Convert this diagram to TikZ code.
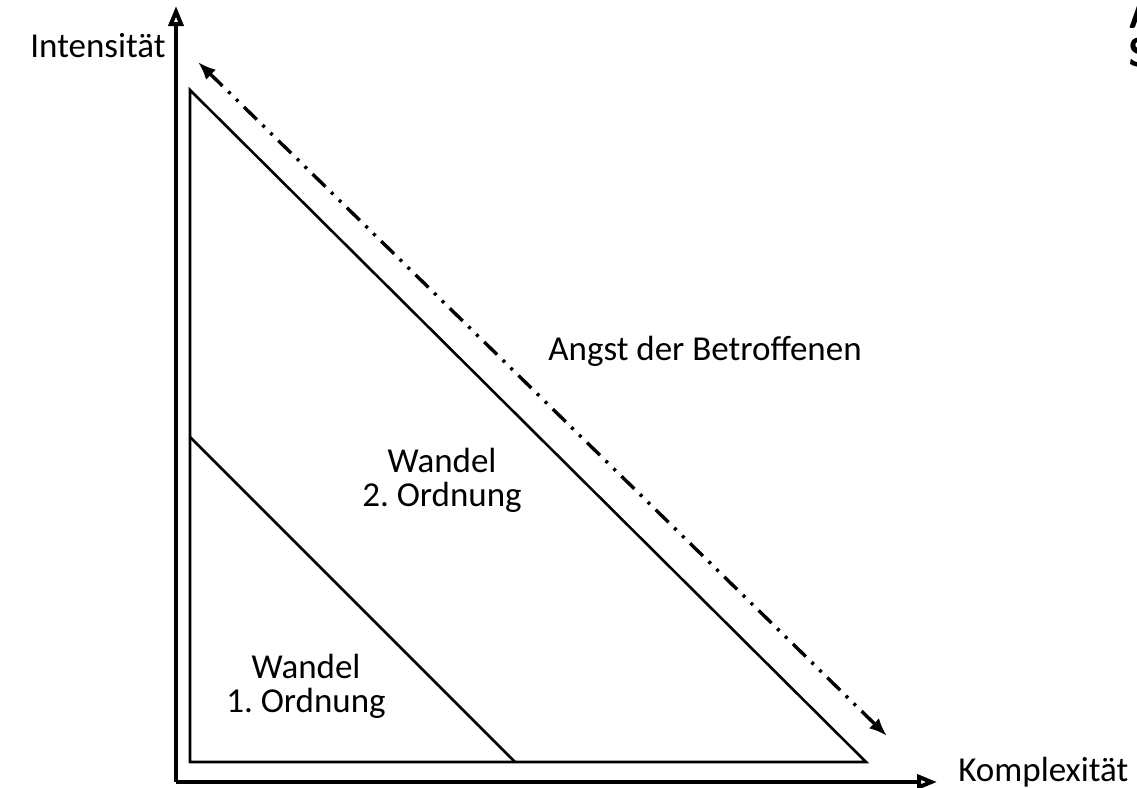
\documentclass[tikz,border=0pt]{standalone}
\usepackage{fontspec}
\setmainfont{Carlito}
\frenchspacing
\usetikzlibrary{arrows.meta}

\begin{document}
\begin{tikzpicture}[x=0.5pt, y=-0.5pt,
    axis/.style={line width=2pt, -{Triangle[open, length=10pt, width=7.5pt]}},
    edge/.style={line width=1.3pt},
    fear/.style={line width=1.7pt, {Latex[length=9pt, width=7pt]}-{Latex[length=9pt, width=7pt]},
      dash pattern=on 9pt off 4pt on 1.5pt off 4pt on 1.5pt off 4pt},
    label/.style={font=\fontsize{17.5}{17}\selectfont, align=center, inner sep=0pt},
    heading/.style={font=\sffamily\bfseries\fontsize{20}{17}\selectfont, inner sep=0pt, anchor=base west}]
      \useasboundingbox (0,0) rectangle (1137,788);

      % Axes
      \coordinate (O) at (176,782);
      \coordinate (ytop) at (176,6);
      \coordinate (xend) at (937,782);
      \draw[axis] (O) -- (ytop);
      \draw[axis] (O) -- (xend);
      \node[label, anchor=base east] (ylab) at (166,57) {Intensität};
      \node[label, anchor=base west] (xlab) at (958,781) {Komplexität};

      % Outer triangle
      \coordinate (T) at (190,90);
      \coordinate (B) at (190,762);
      \coordinate (R) at (866,762);
      \draw[edge, line join=miter] (T) -- (B) -- (R) -- cycle;

      % Inner border
      \coordinate (I1) at (190,437);
      \coordinate (I2) at (515,762);
      \draw[edge] (I1) -- (I2);

      % Dash-dot arrow along the hypotenuse
      \coordinate (F1) at (198,62);
      \coordinate (F2) at (887,736);
      \draw[fear] (F1) -- (F2);

      \node[label, anchor=base] (angst) at (705,360) {Angst der Betroffenen};
      \node[label] (second) at (442,480) {Wandel\\2. Ordnung};
      \node[label] (first) at (306,686) {Wandel\\1. Ordnung};

      % Cut-off heading at the right edge
      \begin{scope}
        \clip (0,0) rectangle (1137,788);
        \node[heading] (cutA) at (1128,28) {A};
        \node[heading] (cutS) at (1128,66) {S};
      \end{scope}
    \end{tikzpicture}
\end{document}
